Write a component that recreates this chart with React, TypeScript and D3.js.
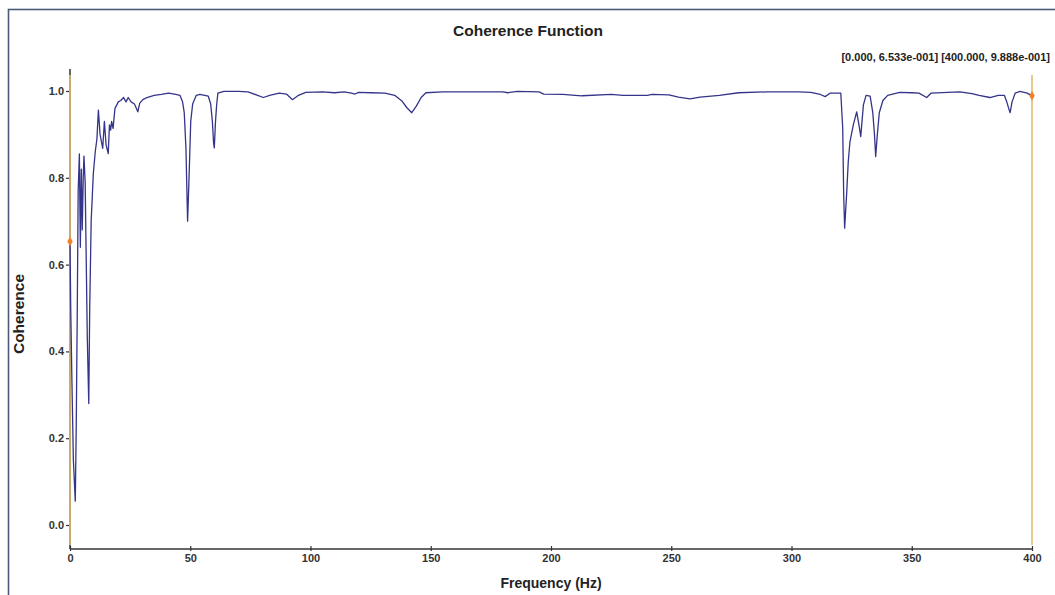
import React, { useEffect, useRef } from "react";
import * as d3 from "d3";

// frequency (Hz) and coherence
const freqs = [
  0, 0.3, 0.8, 1.4, 2.2, 2.6, 3.0, 3.4, 3.9, 4.3, 4.7, 5.1, 5.5, 5.8, 6.3, 6.7, 7.2, 7.8, 8.2, 8.8,
  9.7, 10.5, 11.2, 11.8, 12.5, 13.6, 14.3, 15.0, 15.9, 16.4, 16.9, 17.3, 17.9, 18.7, 20.1, 21.1,
  22.3, 23.3, 24.2, 25.4, 26.8, 28.2, 29.0, 30.3, 32, 35, 38, 41, 44, 45.7, 46.8, 47.5, 48.2, 48.9,
  49.5, 50.2, 51, 52.5, 54, 56, 57.5, 58.5, 59.2, 59.7, 60.0, 60.5, 61.0, 61.5, 64, 70, 74, 78,
  80.4, 83, 87, 90, 92.5, 95, 98, 105, 110, 114, 117, 118.5, 120, 125, 131, 135, 138, 140, 142.1,
  144, 146, 148, 155, 180, 182, 186, 195, 197, 205, 210, 213, 225, 230, 240, 242, 249, 253, 257.8,
  262, 270, 278, 290, 303, 308, 312, 314, 316, 320.5, 321.3, 321.7, 322.1, 322.9, 323.6, 324.3,
  325.7, 327.1, 328.1, 328.8, 329.9, 331, 332.7, 333.8, 334.5, 335, 335.7, 336.5, 338, 340, 345,
  350, 353, 356.2, 358, 365, 370, 375, 378, 382.5, 386, 388.5, 389.5, 390.3, 390.9, 391.7, 393,
  395, 398, 400,
];
const coherence = [
  0.653, 0.5, 0.33, 0.15, 0.055, 0.23, 0.48, 0.77, 0.855, 0.64, 0.82, 0.68, 0.8, 0.85, 0.79, 0.63,
  0.43, 0.28, 0.5, 0.7, 0.81, 0.86, 0.89, 0.956, 0.9, 0.868, 0.93, 0.876, 0.856, 0.922, 0.91, 0.93,
  0.914, 0.96, 0.975, 0.978, 0.985, 0.975, 0.985, 0.975, 0.97, 0.952, 0.972, 0.98, 0.985, 0.99,
  0.992, 0.995, 0.992, 0.99, 0.975, 0.95, 0.87, 0.7, 0.8, 0.93, 0.97, 0.99, 0.992, 0.99, 0.988,
  0.97, 0.93, 0.88, 0.869, 0.93, 0.97, 0.995, 0.999, 0.999, 0.998, 0.99, 0.985, 0.99, 0.995, 0.993,
  0.98, 0.99, 0.997, 0.998, 0.996, 0.998, 0.995, 0.993, 0.997, 0.996, 0.995, 0.99, 0.977, 0.962,
  0.95, 0.965, 0.985, 0.996, 0.998, 0.998, 0.996, 0.999, 0.998, 0.993, 0.992, 0.99, 0.989, 0.992,
  0.99, 0.99, 0.992, 0.991, 0.986, 0.982, 0.986, 0.99, 0.996, 0.998, 0.998, 0.997, 0.992, 0.987,
  0.995, 0.995, 0.914, 0.76, 0.684, 0.76, 0.837, 0.883, 0.922, 0.952, 0.92, 0.895, 0.968, 0.99,
  0.988, 0.95, 0.9, 0.849, 0.9, 0.95, 0.978, 0.99, 0.997, 0.996, 0.995, 0.985, 0.995, 0.997, 0.998,
  0.994, 0.99, 0.985, 0.99, 0.99, 0.975, 0.96, 0.95, 0.975, 0.995, 0.999, 0.995, 0.9888,
];
const xTicks = [0, 50, 100, 150, 200, 250, 300, 350, 400];
const yTicks = [0, 0.2, 0.4, 0.6, 0.8, 1.0];
const cursors = [
  { f: 0, c: 0.6533 },
  { f: 400, c: 0.9888 },
];
const cursorText = "[0.000, 6.533e-001] [400.000, 9.888e-001]";

const W = 1055;
const H = 595;
const FONT = "'Liberation Sans', Arial, sans-serif";

const CoherenceChart: React.FC = () => {
  const ref = useRef<SVGSVGElement>(null);

  useEffect(() => {
    const svg = d3.select(ref.current);
    svg.selectAll("*").remove();

    const x = d3.scaleLinear().domain([0, 400]).range([70, 1032]);
    const y = d3.scaleLinear().domain([0, 1]).range([525, 91]);
    const yBottom = 549;
    const yTop = 69;

    // frame
    svg.append("rect")
      .attr("x", 8.5).attr("y", 9.5)
      .attr("width", 1100).attr("height", 700)
      .attr("fill", "none").attr("stroke", "#4b5a78").attr("stroke-width", 1.6);

    // title
    svg.append("text")
      .attr("x", 528).attr("y", 36)
      .attr("text-anchor", "middle")
      .attr("font-family", FONT).attr("font-weight", "bold").attr("font-size", 15.5)
      .attr("fill", "#222")
      .text("Coherence Function");

    svg.append("text")
      .attr("x", 1050).attr("y", 61)
      .attr("text-anchor", "end")
      .attr("font-family", FONT).attr("font-weight", "bold").attr("font-size", 11)
      .attr("fill", "#222")
      .text(cursorText);

    // axes
    const axisColor = "#333";
    svg.append("line")
      .attr("x1", x(0)).attr("x2", x(0)).attr("y1", yTop).attr("y2", yBottom)
      .attr("stroke", axisColor).attr("stroke-width", 1.5);
    svg.append("line")
      .attr("x1", x(0)).attr("x2", x(400)).attr("y1", yBottom).attr("y2", yBottom)
      .attr("stroke", axisColor).attr("stroke-width", 1.5);

    const yAxis = svg.append("g")
      .attr("transform", `translate(${x(0)},0)`)
      .call(d3.axisLeft(y).tickValues(yTicks).tickFormat(d3.format(".1f")).tickSize(4).tickSizeOuter(0).tickPadding(2));
    yAxis.select(".domain").remove();

    const xAxis = svg.append("g")
      .attr("transform", `translate(0,${yBottom})`)
      .call(d3.axisBottom(x).tickValues(xTicks).tickFormat(d3.format("d")).tickSize(2).tickSizeOuter(0).tickPadding(3));
    xAxis.select(".domain").remove();
    xAxis.selectAll(".tick line").attr("y1", -3);

    [yAxis, xAxis].forEach(g => {
      g.selectAll(".tick line").attr("stroke", axisColor).attr("stroke-width", 1.2);
      g.selectAll(".tick text")
        .attr("font-family", FONT).attr("font-weight", "bold").attr("font-size", 11)
        .attr("fill", "#333");
    });

    // axis labels
    svg.append("text")
      .attr("transform", `translate(24,314) rotate(-90)`)
      .attr("text-anchor", "middle")
      .attr("font-family", FONT).attr("font-weight", "bold").attr("font-size", 15.5)
      .attr("fill", "#222")
      .text("Coherence");
    svg.append("text")
      .attr("x", (x(0) + x(400)) / 2).attr("y", 588)
      .attr("text-anchor", "middle")
      .attr("font-family", FONT).attr("font-weight", "bold").attr("font-size", 14)
      .attr("fill", "#222")
      .text("Frequency (Hz)");

    // cursor lines
    cursors.forEach(cu => {
      svg.append("line")
        .attr("x1", x(cu.f)).attr("x2", x(cu.f))
        .attr("y1", 75).attr("y2", 545)
        .attr("stroke", "#e5bb72").attr("stroke-width", 1.6);
    });

    // data line
    const data = freqs.map((f, i) => ({ f, c: coherence[i] }));
    const line = d3.line<{ f: number; c: number }>()
      .x(d => x(d.f))
      .y(d => y(d.c));
    svg.append("path")
      .datum(data)
      .attr("d", line)
      .attr("fill", "none")
      .attr("stroke", "#34348a")
      .attr("stroke-width", 1.3)
      .attr("stroke-linejoin", "round");

    // cursor markers
    cursors.forEach(cu => {
      svg.append("path")
        .attr("transform", `translate(${x(cu.f)},${y(cu.c)})`)
        .attr("d", d3.symbol(d3.symbolDiamond, 26)())
        .attr("fill", "#f0802a");
    });
  }, []);

  return (
    <svg
      ref={ref}
      width={W}
      height={H}
      style={{ position: "absolute", left: 0, top: 0, background: "#fff" }}
    />
  );
};

export default function App() {
  return <CoherenceChart />;
}
